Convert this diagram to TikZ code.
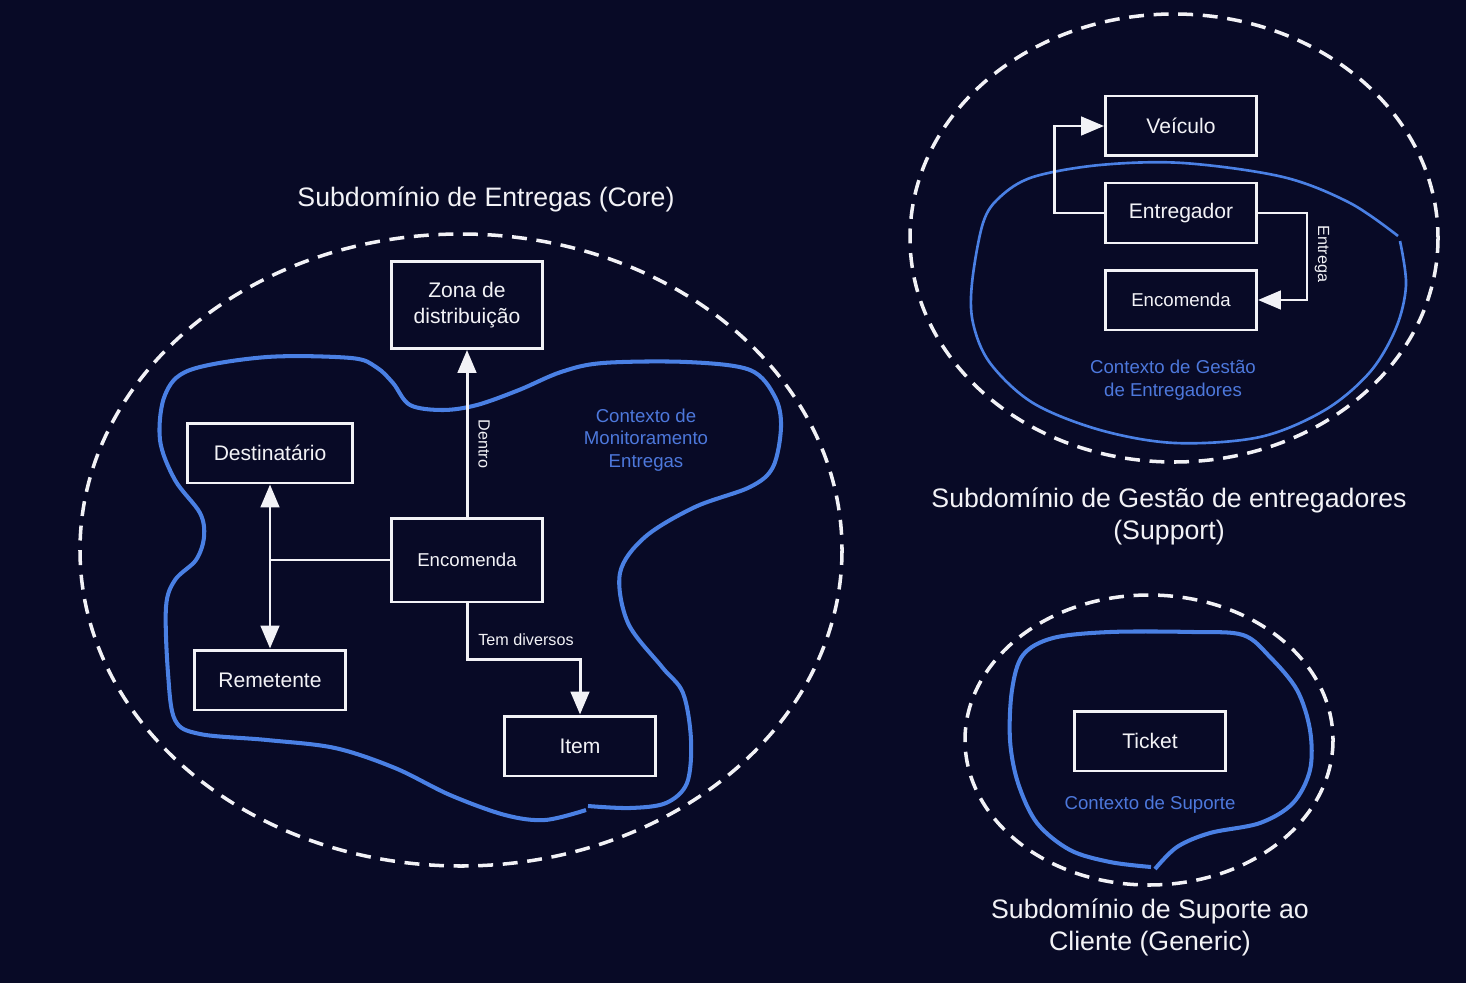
\documentclass[tikz,border=0pt]{standalone}
\usepackage{fontspec}
\setmainfont{Liberation Sans}
\usetikzlibrary{arrows.meta}

\definecolor{fundo}{HTML}{080A26}
\definecolor{azul}{HTML}{4A80E4}
\definecolor{azultxt}{HTML}{4D78DC}
\definecolor{branco}{HTML}{F2F2F6}

\begin{document}
\begin{tikzpicture}[
        x=0.02cm, y=-0.02cm,
        caixa/.style={
            draw=branco,
            line width=1.7pt,
            fill=fundo,
            text=branco,
            align=center,
            font=\fontsize{12}{14.8}\selectfont,
            minimum width=3.02cm,
            minimum height=1.2cm,
            inner sep=2pt
        },
        miuda/.style={
            font=\fontsize{10.6}{13}\selectfont
        },
        linha/.style={
            draw=branco,
            line width=1.7pt
        },
        seta/.style={
            linha,
            -{Triangle[length=13pt,width=10.5pt]}
        },
        setadupla/.style={
            linha,
            {Triangle[length=13pt,width=10.5pt]}-{Triangle[length=13pt,width=10.5pt]}
        },
        rotulo/.style={
            text=branco,
            font=\fontsize{9.2}{10}\selectfont,
            inner sep=1pt
        },
        subdominio/.style={
            draw=branco,
            line width=2pt,
            dash pattern=on 8.5pt off 5.5pt
        },
        contexto/.style={
            draw=azul,
            line width=2.3pt,
            line join=round
        },
        ctxtexto/.style={
            text=azultxt,
            align=center,
            font=\fontsize{10.6}{12.8}\selectfont
        },
        titulo/.style={
            text=branco,
            align=center,
            font=\fontsize{15.2}{18.2}\selectfont
        }
    ]
    % fundo
    \fill[fundo] (0,0) rectangle (1466,983);

    % subdominios
    \draw[subdominio] (461,550) ellipse [x radius=381, y radius=316];
    \draw[subdominio] (1174,238) ellipse [x radius=264, y radius=224];
    \draw[subdominio] (1149,740) ellipse [x radius=184, y radius=145];

    % contexto de monitoramento
    \draw[contexto] plot[smooth, tension=0.55] coordinates {
        (588,806) (630,808) (666,803) (687,783) (691,740) (683,693) (662,667)
        (628,623) (620,573) (645,537) (695,507) (750,487) (773,467) (781,427)
        (775,397) (750,370) (687,362) (603,363) (561,372) (519,390) (477,405)
        (443,410) (410,405) (393,383) (376,367) (351,358) (267,357) (190,370)
        (165,395) (160,440) (175,480) (200,513) (204,537) (196,560) (175,580)
        (166,607) (168,673) (175,720) (200,734) (267,740) (335,748) (395,768)
        (450,795) (505,815) (545,820) (586,810)};
    % contexto de gestao
    \draw[contexto, line width=1.5pt] plot[smooth, tension=0.55] coordinates {
        (1398,236) (1350,203) (1283,177) (1183,163) (1100,165) (1033,177)
        (1000,197) (983,223) (972,283) (973,323) (990,363) (1033,403)
        (1100,430) (1175,443) (1260,437) (1325,410) (1370,372) (1396,328)
        (1406,285) (1400,241)};
    % contexto de suporte
    \draw[contexto] plot[smooth, tension=0.55] coordinates {
        (1155,869) (1177,847) (1210,833) (1260,823) (1293,803) (1310,770)
        (1310,730) (1297,690) (1270,657) (1243,635) (1193,632) (1110,632)
        (1053,638) (1023,655) (1012,690) (1010,740) (1018,783) (1037,823)
        (1070,850) (1110,862) (1151,867)};

    % entregas
    \node[caixa, minimum height=1.74cm] (zona) at (467,305) {Zona de\\distribuição};
    \node[caixa, minimum width=3.3cm] (destinatario) at (270,453) {Destinatário};
    \node[caixa, miuda, minimum height=1.68cm] (encomenda) at (467,560) {Encomenda};
    \node[caixa] (remetente) at (270,680) {Remetente};
    \node[caixa] (item) at (580,746) {Item};

    \draw[seta] (encomenda.north) -- (zona.south);
    \draw[setadupla] (destinatario.south) -- (remetente.north);
    \draw[linha] (encomenda.west) -- (encomenda.west -| destinatario.south);
    \draw[seta] (encomenda.south) -- ++(0,56) -| (item.north);
    \node[rotulo, rotate=-90] (dentro) at (484,444) {Dentro};
    \node[rotulo] (temdiversos) at (526,640) {Tem diversos};

    % gestao de entregadores
    \node[caixa] (veiculo) at (1181,126) {Veículo};
    \node[caixa] (entregador) at (1181,213) {Entregador};
    \node[caixa, miuda] (encomenda2) at (1181,300) {Encomenda};

    \draw[seta] (entregador.west) -- ++(-50,0) |- (veiculo.west);
    \draw[seta] (entregador.east) -- ++(49,0) |- (encomenda2.east);
    \node[rotulo, rotate=-90] (entrega) at (1322,254) {Entrega};

    % suporte
    \node[caixa] (ticket) at (1150,741) {Ticket};

    % textos
    \node[titulo] (tcore) at (486,199) {Subdomínio de Entregas (Core)};
    \node[titulo] (tsupport) at (1169,516) {Subdomínio de Gestão de entregadores\\(Support)};
    \node[titulo] (tgeneric) at (1150,927) {Subdomínio de Suporte ao\\Cliente (Generic)};
    \node[ctxtexto] (cmonit) at (646,440) {Contexto de\\Monitoramento\\Entregas};
    \node[ctxtexto] (cgestao) at (1173,380) {Contexto de Gestão\\de Entregadores};
    \node[ctxtexto] (csuporte) at (1150,805) {Contexto de Suporte};
\end{tikzpicture}
\end{document}
